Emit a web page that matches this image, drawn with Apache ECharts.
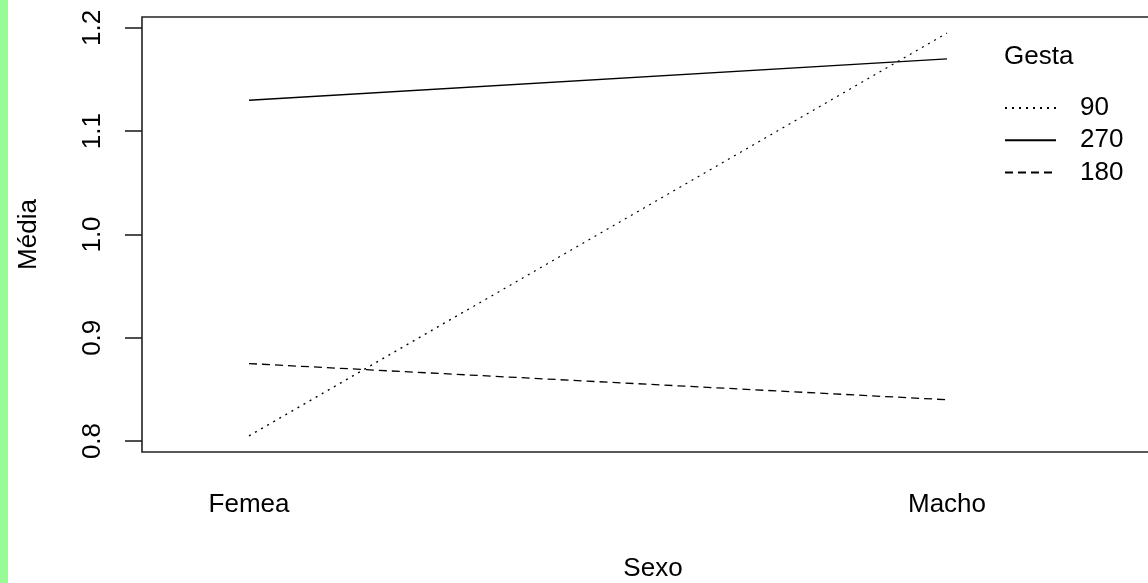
<!DOCTYPE html>
<html>
<head>
<meta charset="utf-8">
<script src="https://cdn.jsdelivr.net/npm/echarts@6/dist/echarts.min.js"></script>
<style>
html,body{margin:0;padding:0;background:#fff;}
#chart{width:1148px;height:583px;}
</style>
</head>
<body>
<div id="chart"></div>
<script>
const categories = ['Femea', 'Macho'];
const groups = ['90', '270', '180'];
const values90 = [0.805, 1.195];
const values270 = [1.13, 1.17];
const values180 = [0.875, 0.84];
const yTicks = [0.8, 0.9, 1.0, 1.1, 1.2];
const lineTypes = [[2, 5], 'solid', [8, 5]];
const seriesValues = [values90, values270, values180];

const FONT = 'Liberation Sans';
const chart = echarts.init(document.getElementById('chart'), null, {renderer: 'canvas'});
chart.setOption({
  animation: false,
  backgroundColor: '#fff',
  textStyle: {fontFamily: FONT},
  graphic: [
    {type: 'rect', left: 0, top: 0, shape: {width: 8, height: 583}, style: {fill: '#98fb98'}, z: 100}
  ],
  title: {
    text: 'Gesta', left: 1004, top: 44, padding: 0,
    textStyle: {fontFamily: FONT, fontSize: 26, fontWeight: 'normal', color: '#000'}
  },
  legend: {
    orient: 'vertical', left: 1004, top: 95, padding: 0,
    itemWidth: 51, itemHeight: 14, itemGap: 6.3,
    data: groups,
    itemStyle: {opacity: 0},
    textStyle: {fontFamily: FONT, fontSize: 26, color: '#000', padding: [0, 0, 0, 19]}
  },
  grid: {
    left: 142, top: 17, height: 435, width: 1022,
    outerBoundsMode: 'none', containLabel: false,
    show: true, borderColor: '#222', borderWidth: 1.6, backgroundColor: 'transparent'
  },
  xAxis: {
    type: 'value', min: 0.8467, max: 2.3109,
    name: 'Sexo', nameLocation: 'middle', nameGap: 104,
    nameTextStyle: {fontFamily: FONT, fontSize: 26, color: '#000'},
    axisLine: {show: false}, axisTick: {show: false}, splitLine: {show: false},
    axisLabel: {
      customValues: [1, 2], margin: 40,
      fontFamily: FONT, fontSize: 26, color: '#000',
      formatter: v => categories[Math.round(v) - 1]
    }
  },
  yAxis: {
    type: 'value', min: 0.7894, max: 1.2106,
    name: 'Média', nameLocation: 'middle', nameGap: 100,
    nameTextStyle: {fontFamily: FONT, fontSize: 26, color: '#000'},
    axisLine: {show: false}, splitLine: {show: false},
    axisTick: {show: true, customValues: yTicks, length: 17, lineStyle: {color: '#222', width: 1.6}},
    axisLabel: {
      customValues: yTicks, rotate: 90, margin: 36,
      fontFamily: FONT, fontSize: 26, color: '#000',
      formatter: v => v.toFixed(1)
    }
  },
  series: groups.map((g, i) => ({
    name: g, type: 'line', symbol: 'none',
    data: seriesValues[i].map((v, j) => [j + 1, v]),
    lineStyle: {color: '#000', width: 1.3, type: lineTypes[i]},
    itemStyle: {color: '#000'}
  }))
});
</script>
</body>
</html>
